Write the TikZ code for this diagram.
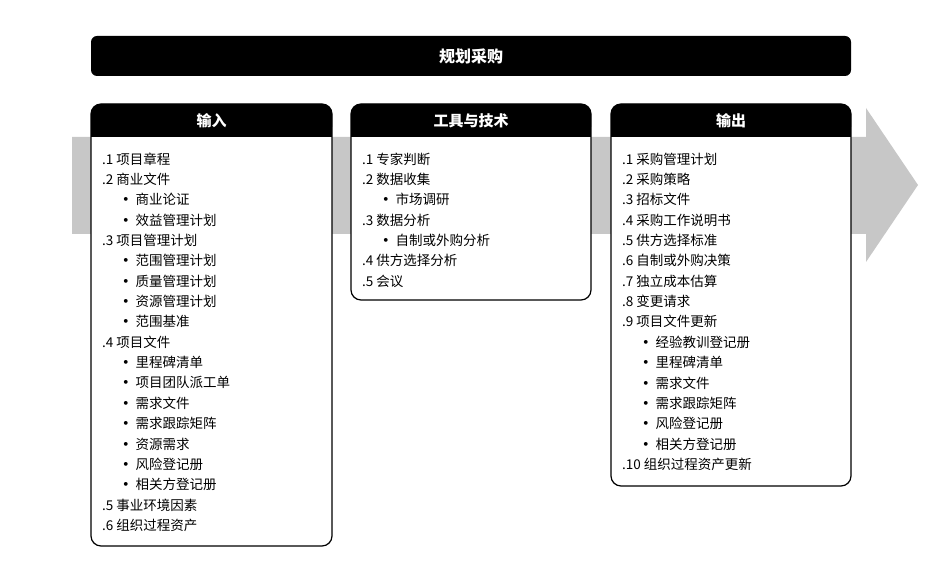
\documentclass[tikz,border=0pt]{standalone}
\usepackage{fontspec}
\setmainfont{Noto Sans CJK SC}
\begin{document}
\begin{tikzpicture}[x=1pt,y=-1pt,
  item/.style={anchor=west,inner sep=0pt,font=\fontsize{13.5}{15}\selectfont}]
\useasboundingbox (0,0) rectangle (932,572);
\fill[black!22] (72,137) -- (866,137) -- (866,108) -- (918,185) -- (866,262) -- (866,234) -- (72,234) -- cycle;
\fill[black,rounded corners=6pt] (91,36) rectangle (851,76);
\node[text=white,font=\fontsize{16}{18}\selectfont\bfseries] (title) at (471,56) {规划采购};
\newcommand{\pbox}[5]{%
  \draw[fill=white,line width=1.2pt,rounded corners=10pt] (#1,104) rectangle (#2,#3);
  \fill[black,rounded corners=10pt] (#1,104) rectangle (#2,137);
  \fill[black] (#1,125) rectangle (#2,137);
  \node[text=white,font=\fontsize{15}{17}\selectfont\bfseries] (#5) at ({(#1+#2)/2},120.5) {#4};}
\pbox{91}{332}{546}{输入}{in}
\pbox{351}{591}{300}{工具与技术}{tt}
\pbox{611}{851}{486}{输出}{out}
\newcommand{\lines}[2]{%
  \foreach \t [count=\i from 0] in {#2} {\node[item] (n#1\i) at (#1,{159+\i*20.35}) {\t};}}
\def\b{\hspace{17pt}\textbf{•}\hspace{3pt}}
\lines{102}{.1 项目章程,.2 商业文件,\b 商业论证,\b 效益管理计划,.3 项目管理计划,\b 范围管理计划,\b 质量管理计划,\b 资源管理计划,\b 范围基准,.4 项目文件,\b 里程碑清单,\b 项目团队派工单,\b 需求文件,\b 需求跟踪矩阵,\b 资源需求,\b 风险登记册,\b 相关方登记册,.5 事业环境因素,.6 组织过程资产}
\lines{362}{.1 专家判断,.2 数据收集,\b 市场调研,.3 数据分析,\b 自制或外购分析,.4 供方选择分析,.5 会议}
\lines{622}{.1 采购管理计划,.2 采购策略,.3 招标文件,.4 采购工作说明书,.5 供方选择标准,.6 自制或外购决策,.7 独立成本估算,.8 变更请求,.9 项目文件更新,\b 经验教训登记册,\b 里程碑清单,\b 需求文件,\b 需求跟踪矩阵,\b 风险登记册,\b 相关方登记册,.10 组织过程资产更新}
\end{tikzpicture}
\end{document}
